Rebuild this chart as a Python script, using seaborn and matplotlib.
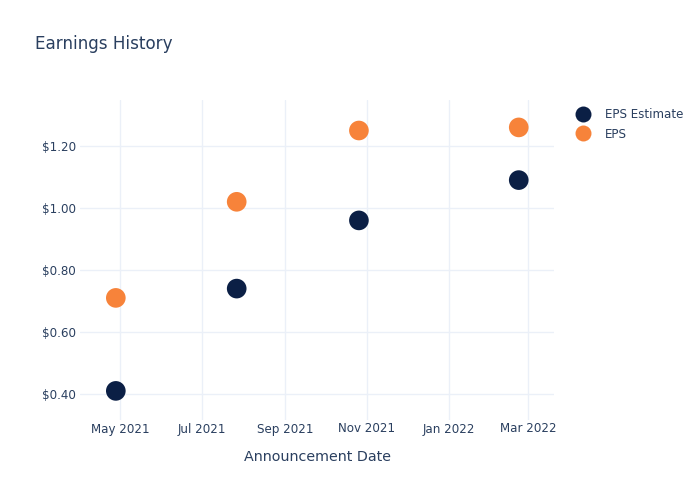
import matplotlib
matplotlib.use("Agg")
import matplotlib.pyplot as plt
import matplotlib.dates as mdates
import matplotlib.ticker as mticker
from matplotlib.lines import Line2D
import seaborn as sns
import pandas as pd

dates = ["2021-04-28", "2021-07-27", "2021-10-26", "2022-02-22"]
eps_estimate = [0.41, 0.74, 0.96, 1.09]
eps_actual = [0.71, 1.02, 1.25, 1.26]
series_names = ["EPS Estimate", "EPS"]
colors = ["#0b1f45", "#f7833a"]
x_ticks = ["2021-05-01", "2021-07-01", "2021-09-01", "2021-11-01", "2022-01-01", "2022-03-01"]
y_ticks = [0.40, 0.60, 0.80, 1.00, 1.20]

df = pd.DataFrame({
    "date": pd.to_datetime(dates * 2),
    "value": eps_estimate + eps_actual,
    "series": [series_names[0]] * len(dates) + [series_names[1]] * len(dates),
})

sns.set_style("white")
plt.rcParams["font.family"] = ["DejaVu Sans"]
text_color = "#2a3f5f"
grid_color = "#ebf0f8"

fig = plt.figure(figsize=(7, 5), dpi=100)
ax = fig.add_axes([80 / 700, 1 - 420 / 500, (554 - 80) / 700, 320 / 500])

sns.scatterplot(data=df, x="date", y="value", hue="series", hue_order=series_names,
                palette=colors, s=200, linewidth=0, ax=ax, zorder=3, legend=False)

ax.set_xlim(pd.Timestamp("2021-04-01 08:00"), pd.Timestamp("2022-03-20 06:00"))
ax.set_ylim(0.3161, 1.3484)
ax.set_xticks(pd.to_datetime(x_ticks))
ax.xaxis.set_major_formatter(mdates.DateFormatter("%b %Y"))
ax.set_yticks(y_ticks)
ax.yaxis.set_major_formatter(mticker.FuncFormatter(lambda v, p: f"${v:.2f}"))
ax.grid(True, color=grid_color, linewidth=1)
ax.set_axisbelow(True)
for s in ax.spines.values():
    s.set_visible(False)
ax.tick_params(axis="both", length=0, labelsize=8.6, colors=text_color)
ax.tick_params(axis="x", pad=1.8)
ax.tick_params(axis="y", pad=3)
ax.set_xlabel("Announcement Date", fontsize=10.3, color=text_color, labelpad=10.5)
ax.set_ylabel("")

fig.text(35 / 700, 1 - 44 / 500, "Earnings History", fontsize=12.1, color=text_color,
         ha="left", va="center")

handles = [Line2D([], [], marker="o", linestyle="", markersize=11.5, markerfacecolor=c,
                  markeredgewidth=0) for c in colors]
leg = fig.legend(handles, series_names, loc="upper left", bbox_to_anchor=(570 / 700, 1 - 102 / 500),
                 frameon=False, fontsize=8.6, labelcolor=text_color, handlelength=1.2,
                 handletextpad=1.25, labelspacing=0.55, borderpad=0)

fig.savefig("out.png", dpi=100)
